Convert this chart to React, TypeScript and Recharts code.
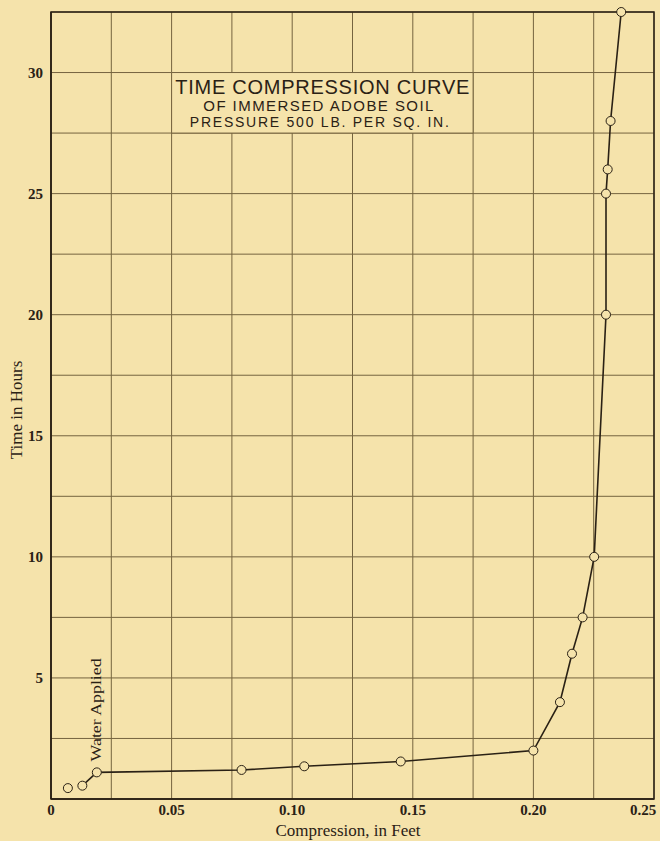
import React from 'react';
import {
  ComposedChart,
  Line,
  XAxis,
  YAxis,
  CartesianGrid,
  ReferenceArea,
  ReferenceDot,
  Label,
} from 'recharts';

// readings taken off the old plate
const waterApplied = [{ x: 0.007, y: 0.45 }];

const compression = [0.013, 0.019, 0.079, 0.105, 0.145, 0.2, 0.211, 0.216, 0.2204, 0.2252, 0.2301, 0.2301, 0.2308, 0.232, 0.2364];
const hours = [0.55, 1.1, 1.2, 1.35, 1.55, 2.0, 4.0, 6.0, 7.5, 10.0, 20.0, 25.0, 26.0, 28.0, 32.5];

const xGrid = [0, 0.025, 0.05, 0.075, 0.1, 0.125, 0.15, 0.175, 0.2, 0.225, 0.25];
const yGrid = [0, 2.5, 5, 7.5, 10, 12.5, 15, 17.5, 20, 22.5, 25, 27.5, 30, 32.5];
const xLabels = ['0', '0.05', '0.10', '0.15', '0.20', '0.25'];
const xLabelTicks = [0, 0.05, 0.1, 0.15, 0.2, 0.25];
const yLabelTicks = [5, 10, 15, 20, 25, 30];

const titleLines = ['TIME COMPRESSION CURVE', 'OF IMMERSED ADOBE SOIL', 'PRESSURE 500 LB. PER SQ. IN.'];

const curve = compression.map((x, i) => ({ x, y: hours[i] }));

const paper = '#f5e3ab';
const ink = '#2a2115';
const gridInk = '#75643f';
const serif = '"Liberation Serif", "DejaVu Serif", serif';
const sans = '"Liberation Sans", "DejaVu Sans", sans-serif';

const near = (a: number, b: number) => Math.abs(a - b) < 1e-6;

function XTick({ x, payload }: any) {
  const idx = xLabelTicks.findIndex(v => near(v, payload.value));
  if (idx < 0) return <g />;
  // last label sits against the page edge, as on the plate
  const tx = idx === xLabels.length - 1 ? Math.min(x, 643) : x;
  return (
    <text x={tx} y={815} textAnchor="middle" fontFamily={serif} fontWeight="bold" fontSize={15} fill={ink}>
      {xLabels[idx]}
    </text>
  );
}

function YTick({ y, payload }: any) {
  if (!yLabelTicks.some(v => near(v, payload.value))) return <g />;
  return (
    <text x={43} y={y + 5} textAnchor="end" fontFamily={serif} fontWeight="bold" fontSize={15} fill={ink}>
      {payload.value}
    </text>
  );
}

export default function App() {
  return (
    <div style={{ position: 'fixed', left: 0, top: 0, width: 660, height: 841, background: paper }}>
      <ComposedChart width={660} height={841} margin={{ top: 12, right: 6, left: 0, bottom: 0 }}>
        <CartesianGrid stroke={gridInk} strokeWidth={1} />
        <XAxis
          type="number"
          dataKey="x"
          domain={[0, 0.25]}
          ticks={xGrid}
          interval={0}
          height={42}
          tickLine={false}
          axisLine={{ stroke: ink, strokeWidth: 1.5 }}
          tick={<XTick />}
        >
          <Label
            content={() => (
              <text x={348} y={836} textAnchor="middle" fontFamily={serif} fontSize={17} fill={ink}>
                Compression, in Feet
              </text>
            )}
          />
        </XAxis>
        <YAxis
          type="number"
          dataKey="y"
          domain={[0, 32.5]}
          ticks={yGrid}
          interval={0}
          width={51}
          tickLine={false}
          axisLine={{ stroke: ink, strokeWidth: 1.5 }}
          tick={<YTick />}
        >
          <Label
            content={() => (
              <text x={22} y={410} transform="rotate(-90, 22, 410)" textAnchor="middle" fontFamily={serif} fontSize={17} fill={ink}>
                Time in Hours
              </text>
            )}
          />
        </YAxis>
        <ReferenceArea x1={0} x2={0.25} y1={0} y2={32.5} fill="none" stroke={ink} strokeWidth={1.5} />
        <ReferenceArea
          x1={0.05}
          x2={0.175}
          y1={27.5}
          y2={30}
          fill={paper}
          fillOpacity={1}
          stroke={gridInk}
          strokeWidth={1}
          label={(props: any) => {
            const vb = props.viewBox;
            const cx = vb.x + vb.width / 2;
            return (
              <g fill={ink} fontFamily={sans}>
                <text x={cx} y={vb.y + 21} textAnchor="middle" fontSize={20} textLength={294} lengthAdjust="spacing">
                  {titleLines[0]}
                </text>
                <text x={cx - 4} y={vb.y + 38} textAnchor="middle" fontSize={15} textLength={230} lengthAdjust="spacing">
                  {titleLines[1]}
                </text>
                <text x={cx - 3} y={vb.y + 54} textAnchor="middle" fontSize={14} textLength={259} lengthAdjust="spacing">
                  {titleLines[2]}
                </text>
              </g>
            );
          }}
        />
        <ReferenceDot
          x={0.019}
          y={1.1}
          r={1}
          fill="none"
          stroke="none"
          label={(props: any) => {
            const vb = props.viewBox;
            const tx = vb.x + vb.width / 2 + 4;
            const ty = vb.y - 10;
            return (
              <text x={tx} y={ty} transform={`rotate(-90, ${tx}, ${ty})`} fontFamily={serif} fontSize={14} fill={ink} textLength={103} lengthAdjust="spacingAndGlyphs">
                Water Applied
              </text>
            );
          }}
        />
        <Line
          data={waterApplied}
          dataKey="y"
          stroke="none"
          isAnimationActive={false}
          dot={{ r: 4.5, fill: paper, stroke: ink, strokeWidth: 1 }}
        />
        <Line
          data={curve}
          dataKey="y"
          type="linear"
          stroke={ink}
          strokeWidth={1.6}
          isAnimationActive={false}
          dot={{ r: 4.5, fill: paper, stroke: ink, strokeWidth: 1 }}
        />
      </ComposedChart>
    </div>
  );
}
